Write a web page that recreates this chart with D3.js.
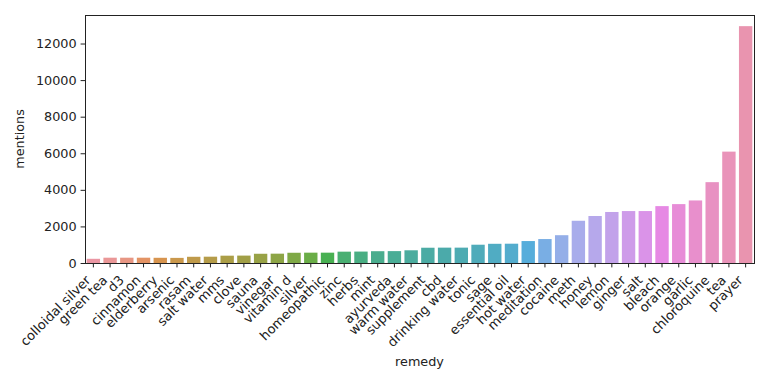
<!DOCTYPE html>
<html lang="en">
<head>
<meta charset="UTF-8">
<title>remedy mentions</title>
<script src="https://d3js.org/d3.v7.min.js"></script>
<style>
  body { margin: 0; background: #fff; }
  text { font-family: "DejaVu Sans", sans-serif; fill: #222; }
</style>
</head>
<body>
<div id="chart"></div>
<script>
// data
var remedies = ["colloidal silver","green tea","d3","cinnamon","elderberry","arsenic","rasam","salt water","mms","clove",
  "sauna","vinegar","vitamin d","silver","homeopathic","zinc","herbs","mint","ayurveda","warm water",
  "supplement","cbd","drinking water","tonic","sage","essential oil","hot water","meditation","cocaine","meth",
  "honey","lemon","ginger","salt","bleach","orange","garlic","chloroquine","tea","prayer"];
var mentions = [230, 290, 290, 290, 285, 280, 340, 345, 400, 405,
  505, 510, 560, 565, 565, 620, 625, 645, 650, 695,
  835, 840, 840, 1000, 1050, 1055, 1200, 1310, 1520, 2310,
  2570, 2790, 2840, 2840, 3110, 3220, 3420, 4420, 6090, 12950];
var yTicks = [0, 2000, 4000, 6000, 8000, 10000, 12000];

var W = 768, H = 384;
var margin = {top: 15, right: 14, bottom: 121, left: 85};
var width = W - margin.left - margin.right,
    height = H - margin.top - margin.bottom;

// seaborn husl palette (l=.7) then desaturated to .75, like barplot does
var M = [[3.2406, -1.5372, -0.4986], [-0.9689, 1.8758, 0.0415], [0.0557, -0.2040, 1.0570]];
function maxChroma(L, Hd) {
  var hr = Hd * Math.PI / 180, sinH = Math.sin(hr), cosH = Math.cos(hr);
  var sub1 = Math.pow(L + 16, 3) / 1560896.0;
  var sub2 = sub1 > 0.008856 ? sub1 : L / 903.3;
  var result = Infinity;
  M.forEach(function(r) {
    var top = (0.99915 * r[0] + 1.05122 * r[1] + 1.14460 * r[2]) * sub2;
    var rb = 0.86330 * r[2] - 0.17266 * r[1];
    var lb = 0.12949 * r[2] - 0.38848 * r[0];
    var bottom = (rb * sinH + lb * cosH) * sub2;
    [0, 1].forEach(function(t) {
      var C = L * (top - 1.05122 * t) / (bottom + 0.17266 * sinH * t);
      if (C > 0 && C < result) result = C;
    });
  });
  return result;
}
function huslToRgb(h, s, l) {
  var C = maxChroma(l, h) / 100 * s;
  var hr = h * Math.PI / 180;
  var U = Math.cos(hr) * C, V = Math.sin(hr) * C;
  var t = (l + 16) / 116;
  var vy = Math.pow(t, 3) > 0.008856 ? Math.pow(t, 3) : (116 * t - 16) / 903.3;
  var vu = U / (13 * l) + 0.19784, vv = V / (13 * l) + 0.46834;
  var Y = vy, X = -(9 * Y * vu) / ((vu - 4) * vv - vu * vv);
  var Z = (9 * Y - 15 * vv * Y - vv * X) / (3 * vv);
  return M.map(function(r) {
    var c = r[0] * X + r[1] * Y + r[2] * Z;
    c = c <= 0.0031308 ? 12.92 * c : 1.055 * Math.pow(c, 1 / 2.4) - 0.055;
    return Math.max(0, Math.min(1, c));
  });
}
var n = remedies.length;
var palette = d3.range(n).map(function(i) {
  var h = ((i / n + 0.01) % 1) * 359;
  var rgb = huslToRgb(h, 0.9 * 99, 0.7 * 99);
  var c = d3.hsl(d3.rgb(rgb[0] * 255, rgb[1] * 255, rgb[2] * 255));
  c.s *= 0.75;
  return c.formatHex();
});

var svg = d3.select("#chart").append("svg")
    .attr("width", W)
    .attr("height", H)
  .append("g")
    .attr("transform", "translate(" + margin.left + "," + margin.top + ")");

var x = d3.scaleBand()
    .domain(remedies)
    .range([0, width])
    .paddingInner(0.2)
    .paddingOuter(0.1);

var y = d3.scaleLinear()
    .domain([0, 13560])
    .range([height, 0]);

svg.selectAll(".bar")
    .data(remedies)
  .enter().append("rect")
    .attr("class", "bar")
    .attr("x", function(d) { return x(d); })
    .attr("width", x.bandwidth())
    .attr("y", function(d, i) { return y(mentions[i]); })
    .attr("height", function(d, i) { return height - y(mentions[i]); })
    .style("fill", function(d, i) { return palette[i]; });

// y axis
var yAxis = svg.append("g")
    .call(d3.axisLeft(y).tickValues(yTicks).tickSize(4.4).tickPadding(4).tickFormat(d3.format("d")));
yAxis.select(".domain").remove();
yAxis.selectAll("text").style("font-size", "12.8px").attr("fill", "#222");
yAxis.selectAll("line").attr("stroke", "#222");

// x axis
var xAxis = svg.append("g")
    .attr("transform", "translate(0," + height + ")")
    .call(d3.axisBottom(x).tickSize(4.4).tickSizeOuter(0));
xAxis.select(".domain").remove();
xAxis.selectAll("line").attr("stroke", "#222");
xAxis.selectAll("text")
    .style("font-size", "13px")
    .style("text-anchor", "end")
    .attr("fill", "#222")
    .attr("dy", null)
    .attr("y", null)
    .attr("transform", "translate(-2,18) rotate(-45)");

// frame
svg.append("rect")
    .attr("x", 0.5).attr("y", 0.5)
    .attr("width", width).attr("height", height)
    .attr("fill", "none")
    .attr("stroke", "#222")
    .attr("stroke-width", 1);

svg.append("text")
    .attr("transform", "translate(-65," + height / 2 + ") rotate(-90)")
    .attr("dy", "0.35em")
    .style("text-anchor", "middle")
    .style("font-size", "12.8px")
    .text("mentions");

svg.append("text")
    .attr("x", width / 2)
    .attr("y", 347)
    .attr("dy", "0.35em")
    .style("text-anchor", "middle")
    .style("font-size", "12.8px")
    .text("remedy");
</script>
</body>
</html>
